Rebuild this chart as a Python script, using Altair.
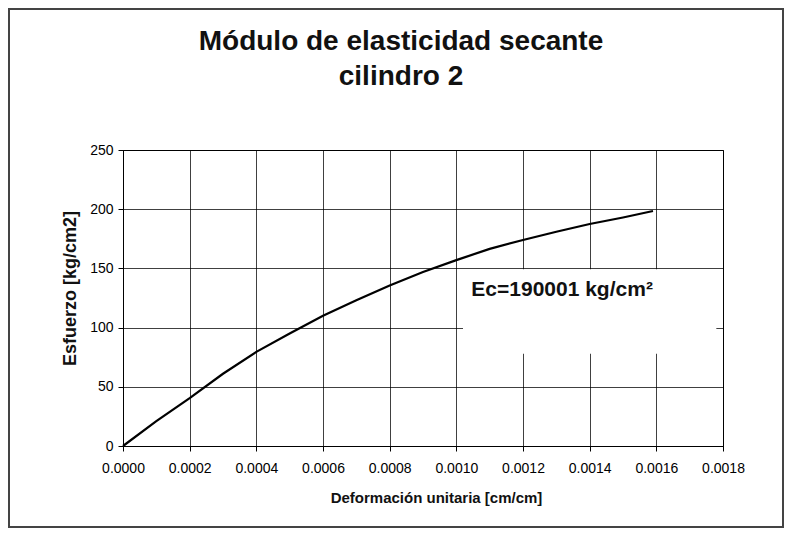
import altair as alt
import pandas as pd

# Data
strain = [0.0, 0.0001, 0.0002, 0.0003, 0.0004, 0.0005, 0.0006, 0.0007, 0.0008,
          0.0009, 0.0010, 0.0011, 0.0012, 0.0013, 0.0014, 0.0015, 0.00159]
stress = [0, 21, 40.5, 61, 79.5, 95, 110, 123, 135.5,
          147, 157, 166.5, 174, 181, 187.5, 193, 198.5]
x_ticks = [0.0, 0.0002, 0.0004, 0.0006, 0.0008, 0.0010, 0.0012, 0.0014, 0.0016, 0.0018]
y_ticks = [0, 50, 100, 150, 200, 250]
annotation = "Ec=190001 kg/cm\u00b2"
title_lines = ["Módulo de elasticidad secante", "cilindro 2"]
x_title = "Deformación unitaria [cm/cm]"
y_title = "Esfuerzo [kg/cm2]"

df = pd.DataFrame({"strain": strain, "stress": stress})
FONT = "Liberation Sans"

xscale = alt.Scale(domain=[0, 0.0018], nice=False, zero=False)
yscale = alt.Scale(domain=[0, 250], nice=False)

xaxis = alt.Axis(values=x_ticks, format=".4f", title=x_title, grid=True,
                 gridColor="black", gridOpacity=0.75, gridWidth=1,
                 domainColor="black", tickColor="black", tickSize=5,
                 labelFont=FONT, labelFontSize=14, labelColor="black", labelPadding=10,
                 labelFlush=False,
                 titleFont=FONT, titleFontSize=15, titleFontWeight="bold",
                 titleColor="#111", titlePadding=15, titleX=313)
yaxis = alt.Axis(values=y_ticks, title=y_title, grid=True,
                 gridColor="black", gridOpacity=0.75, gridWidth=1,
                 domainColor="black", tickColor="black", tickSize=5,
                 labelFont=FONT, labelFontSize=14, labelColor="black", labelPadding=5,
                 titleFont=FONT, titleFontSize=18, titleFontWeight="bold",
                 titleColor="#111", titlePadding=10, titleY=138)

base = alt.Chart(df)

line = base.mark_line(color="black", strokeWidth=2.2).encode(
    x=alt.X("strain:Q", scale=xscale, axis=xaxis),
    y=alt.Y("stress:Q", scale=yscale, axis=yaxis),
)

box = alt.Chart(pd.DataFrame({"a": [0]})).mark_rect(fill="white", stroke=None).encode(
    x=alt.datum(0.00102, scale=xscale), x2=alt.datum(0.00178),
    y=alt.datum(78, scale=yscale), y2=alt.datum(149.2),
)

label = alt.Chart(pd.DataFrame({"t": [annotation]})).mark_text(
    font=FONT, fontSize=21, fontWeight="bold", align="left", baseline="middle", color="#111"
).encode(
    x=alt.datum(0.001045, scale=xscale), y=alt.datum(131.5, scale=yscale), text="t:N"
)

title1 = alt.Chart(pd.DataFrame({"t": [title_lines[0]]})).mark_text(
    font=FONT, fontSize=28, fontWeight="bold", align="center", baseline="alphabetic",
    color="#111", clip=False
).encode(x=alt.value(278), y=alt.value(-100), text="t:N")

title2 = alt.Chart(pd.DataFrame({"t": [title_lines[1]]})).mark_text(
    font=FONT, fontSize=28, fontWeight="bold", align="center", baseline="alphabetic",
    color="#111", clip=False
).encode(x=alt.value(278), y=alt.value(-65), text="t:N")

frame = alt.Chart(pd.DataFrame({"a": [0]})).mark_rect(
    fill=None, stroke="#444", strokeWidth=2, clip=False
).encode(
    x=alt.value(-114), x2=alt.value(660), y=alt.value(-141), y2=alt.value(377)
)

chart = alt.layer(box, line, label, title1, title2, frame).properties(
    width=600, height=296,
    autosize=alt.AutoSizeParams(type="none"),
    padding={"left": 115, "top": 142, "right": 62, "bottom": 83},
).configure_view(stroke="black", strokeWidth=1)

chart.save("out.html", embed_options={"renderer": "svg", "actions": False})
